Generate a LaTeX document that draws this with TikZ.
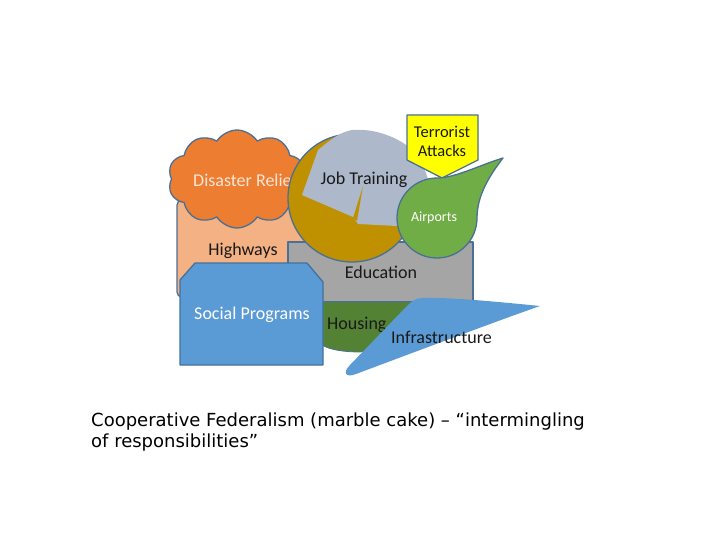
\documentclass[tikz,border=0pt]{standalone}
\usepackage{fontspec}
\setmainfont{Carlito}
\newfontfamily\capfont{DejaVu Sans}
\usetikzlibrary{shapes.symbols}
\definecolor{outl}{HTML}{4A7096}
\definecolor{peach}{HTML}{F4B183}
\definecolor{orng}{HTML}{ED7D31}
\definecolor{cream}{HTML}{FBE5D6}
\definecolor{gry}{HTML}{A5A5A5}
\definecolor{gold}{HTML}{BF9000}
\definecolor{slate}{HTML}{ADB9CA}
\definecolor{yel}{HTML}{FFFF00}
\definecolor{grn}{HTML}{70AD47}
\definecolor{dgrn}{HTML}{548235}
\definecolor{blu}{HTML}{5B9BD5}
\definecolor{dblu}{HTML}{41719C}
\begin{document}
\begin{tikzpicture}[x=1pt,y=-1pt,
  shp/.style={draw=outl, line width=1.3pt, line join=round},
  lbl/.style={font=\fontsize{18}{20}\selectfont, inner sep=0, text=black!90},
  captxt/.style={font=\capfont\fontsize{18}{21}\selectfont, inner sep=0, anchor=base west}]
\useasboundingbox (0,0) rectangle (720,540);
% Highways
\path[shp, fill=peach, rounded corners=5] (177,200) rectangle (330,297);
\node[lbl] (hw) at (243,251) {Highways};
% Education
\path[shp, fill=gry] (288,242) rectangle (473,302);
\node[lbl] (ed) at (381,272) {Education};
% Housing
\path[shp, line width=0.8pt, fill=dgrn] (322,302) -- (440,302) -- (440,340) -- (360,352) .. controls (345,352) and (330,350) .. (322,345) -- cycle;
\node[lbl, anchor=west] (ho) at (327,325) {Housing};
% Disaster relief cloud
\node[cloud, cloud puffs=10, cloud puff arc=115, aspect=1.4, minimum width=138pt, minimum height=98pt, inner sep=0, shp, fill=orng] (cl) at (237,179) {};
\node[lbl, anchor=west, text=cream] (dr) at (193,180) {Disaster Relief};
% Job training circle
\path[shp, fill=gold] (352,198) circle[radius=64];
\path[fill=slate] (302,195) -- (318,150) .. controls (330,140) and (340,132) .. (352,130)
  .. controls (375,128) and (400,138) .. (412,150) .. controls (420,160) and (426,170) .. (428,180)
  -- (405,222) -- (397,226)
  -- (358,224) -- (353,217) -- cycle;
\path[fill=gold] (363,186) -- (353,218) -- (357,221) -- cycle;
\node[lbl] (jt) at (364,180) {Job Training};
% Terrorist attacks
\path[shp, fill=yel] (407,115) -- (478,115) -- (478,160) -- (442,178) -- (407,160) -- cycle;
\node[lbl, font=\fontsize{16.5}{19}\selectfont, align=center] (ta) at (442,141) {Terrorist\\Attacks};
% Airports
\path[shp, fill=grn] (503,158) .. controls (480,165) and (455,178) .. (437,178)
  arc[start angle=270, end angle=0, radius=40]
  .. controls (477,195) and (490,175) .. (503,158) -- cycle;
\node[lbl, font=\fontsize{14}{16}\selectfont, text=white] (ap) at (434,218) {Airports};
% Social programs
\path[draw=dblu, line width=1.3pt, line join=round, fill=blu] (180,280) -- (195,263) -- (307,263) -- (323,282) -- (323,365) -- (180,365) -- cycle;
\node[lbl, text=white] (sp) at (252,315) {Social Programs};
% Infrastructure
\path[fill=blu] (540,306) .. controls (490,301) and (445,297) .. (422,298)
  .. controls (415,298) and (411,302) .. (407,306) -- (350,365)
  .. controls (342,373) and (346,378) .. (356,374)
  .. controls (420,350) and (500,320) .. (540,306) -- cycle;
\node[lbl, anchor=west] (inf) at (391,337) {Infrastructure};
% Caption
\node[captxt] (c1) at (91,426) {Cooperative Federalism (marble cake) – “intermingling};
\node[captxt] (c2) at (91,447) {of responsibilities”};
\end{tikzpicture}
\end{document}
